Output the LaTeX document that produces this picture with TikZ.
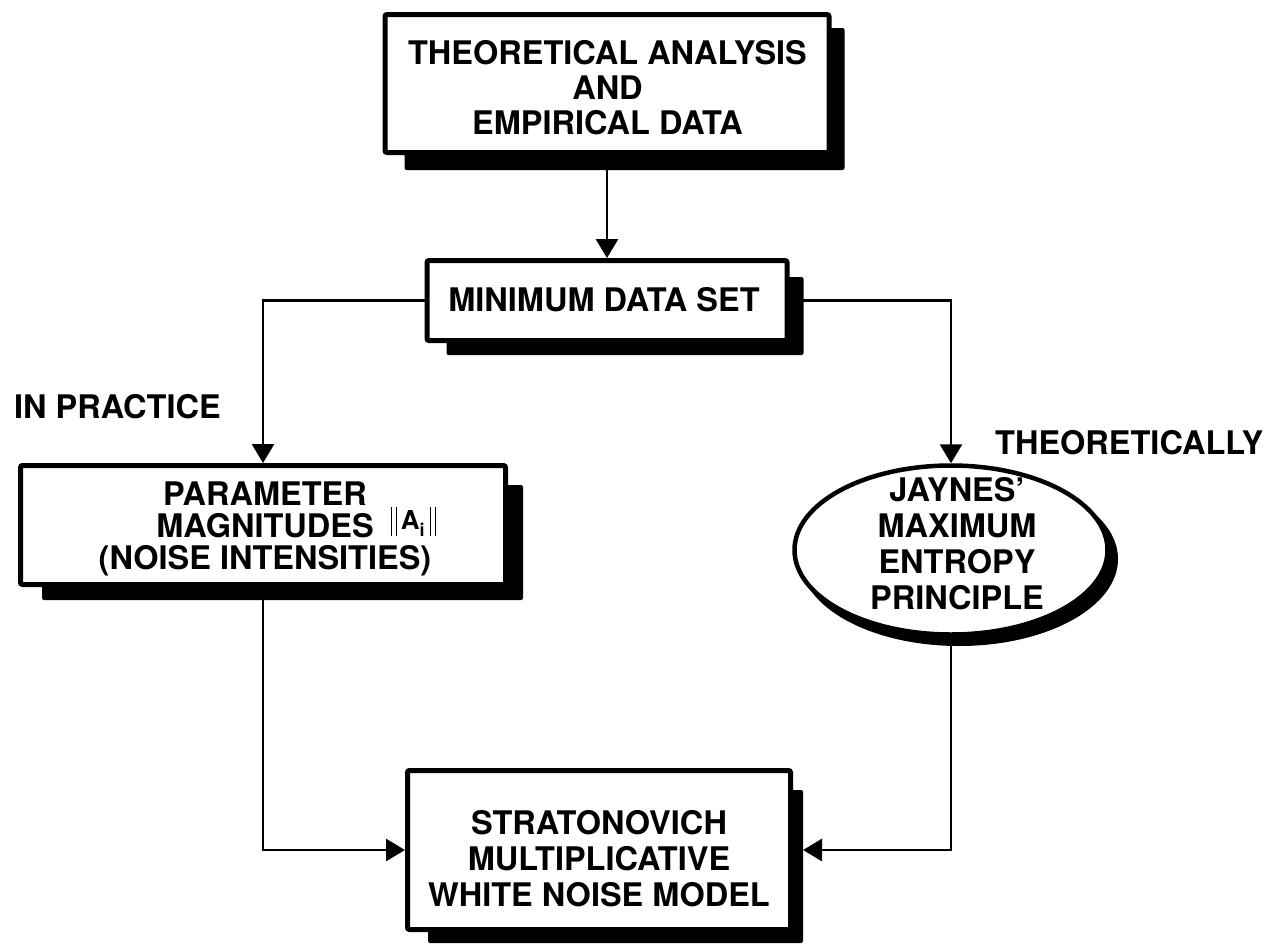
\documentclass[tikz,border=0pt]{standalone}
\usepackage{fontspec}
\setmainfont{TeX Gyre Heros}
\usetikzlibrary{arrows.meta,backgrounds,calc,shapes.geometric}
% thin vertical bar used for the norm signs
\newcommand{\normbar}{\rule[2pt]{1.4pt}{29pt}}
\begin{document}
\begin{tikzpicture}[x=1pt,y=-1pt,
  box/.style={draw, line width=5pt, fill=white, rounded corners=2pt, inner sep=0pt},
  oval/.style={ellipse, draw, line width=4.5pt, fill=white, inner sep=0pt},
  txt/.style={font=\fontsize{32.5}{35}\selectfont\bfseries, align=center, inner sep=0pt},
  conn/.style={line width=2.8pt},
  arr/.style={conn, -{Triangle[width=22pt,length=19pt]}},
  shadowfill/.style={fill=black, rounded corners=2pt}]
\useasboundingbox (0,0) rectangle (1264,943);

% boxes
\node[box, minimum width=444pt, minimum height=138pt] (src) at (607,83.5) {};
\node[txt] (srcT) at (607.5,88) {THEORETICAL ANALYSIS\\AND\\EMPIRICAL DATA};

\node[box, minimum width=360pt, minimum height=80pt] (mds) at (607,300.5) {};
\node[txt] (mdsT) at (604,300) {MINIMUM DATA SET};

\node[box, minimum width=485pt, minimum height=119pt] (par) at (263,525) {};
\node[txt, font=\fontsize{32.5}{32}\selectfont\bfseries] (parT) at (265,529)
  {PARAMETER\\MAGNITUDES\rlap{\hspace{17pt}\normbar\hspace{3.5pt}\normbar\hspace{4pt}\raisebox{8pt}{\fontsize{26}{26}\selectfont A}\raisebox{1pt}{\fontsize{18}{18}\selectfont i}\hspace{5pt}\normbar\hspace{3.5pt}\normbar}\\(NOISE INTENSITIES)};

\node[oval, minimum width=313pt, minimum height=169pt] (jay) at (951,550) {};
\node[txt, font=\fontsize{32.5}{36}\selectfont\bfseries] (jayT) at (957,543.5)
  {JAYNES'\\MAXIMUM\\ENTROPY\\PRINCIPLE};

\node[box, minimum width=383pt, minimum height=159pt] (snm) at (599,850) {};
\node[txt, font=\fontsize{32.5}{36}\selectfont\bfseries] (snmT) at (599,859)
  {STRATONOVICH\\MULTIPLICATIVE\\WHITE NOISE MODEL};

% branch labels
\node[txt, anchor=west] (prac) at (14,407) {IN PRACTICE};
\node[txt, anchor=west] (theo) at (995,443) {THEORETICALLY};

% drop shadows
\begin{scope}[on background layer]
  \fill[shadowfill] ($(src.south west)+(22,15)$) rectangle ($(src.north east)+(13,16)$);
  \fill[shadowfill] ($(mds.south west)+(22,12)$) rectangle ($(mds.north east)+(14,19)$);
  \fill[shadowfill] ($(par.south west)+(24,13)$) rectangle ($(par.north east)+(15,22)$);
  \fill[shadowfill] ($(snm.south west)+(23,11)$) rectangle ($(snm.north east)+(10,22)$);
  \fill ($(jay.center)+(8,9)$) ellipse [x radius=159, y radius=87];
\end{scope}

% connectors
\draw[arr] (src.south) -- (mds.north);
\draw[arr] (mds.west) -| (par.north);
\draw[arr] (mds.east) -| (jay.north);
\draw[arr] (par.south) |- (snm.west);
\draw[arr, shorten >=10pt] (jay.south) |- (snm.east);
\end{tikzpicture}
\end{document}
